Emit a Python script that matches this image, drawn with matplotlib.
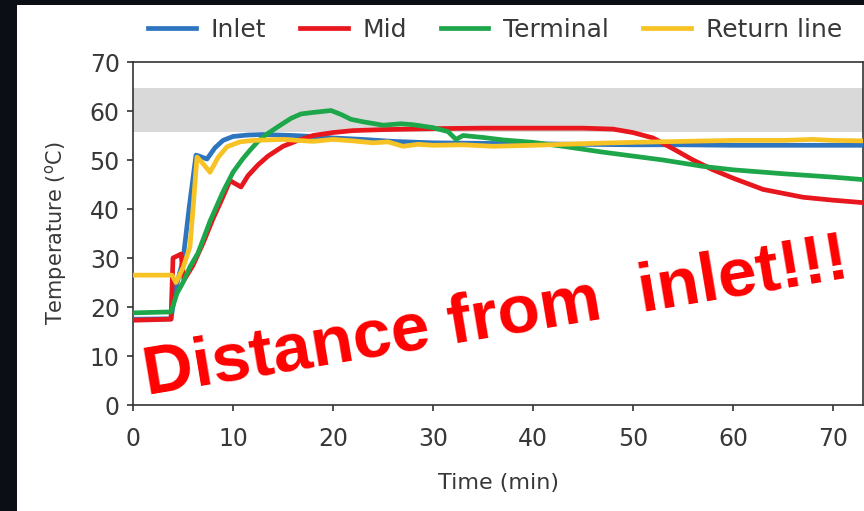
import numpy as np
import matplotlib
matplotlib.use("Agg")
import matplotlib.pyplot as plt
import matplotlib.patches as patches

plt.rcParams['font.family'] = ['DejaVu Sans']

# temperature logs (min, degC)
inlet_t = [0, 3.8, 4.3, 5.0, 5.6, 6.3, 6.6, 7.4, 8.2, 9.0, 10.0, 11.5, 13, 16, 18, 20, 23, 26, 30, 35, 40, 45, 50, 55, 60, 65, 70, 73]
inlet_T = [17.5, 17.6, 24, 29.6, 40, 51, 50.8, 50.2, 52.5, 54, 54.8, 55.1, 55.2, 55, 54.8, 54.5, 54.2, 53.8, 53.5, 53.4, 53.3, 53.2, 53.1, 53.1, 53, 53, 53, 53]

mid_t = [0, 3.8, 4.0, 4.8, 5.1, 6, 7, 8, 9, 9.7, 10.2, 10.8, 11.5, 12.5, 13.5, 15, 16.5, 18, 20, 22, 25, 30, 35, 40, 45, 48, 50, 52, 54, 56, 58, 60, 63, 67, 70, 73]
mid_T = [17.3, 17.5, 30, 30.8, 25.5, 28.5, 33, 38, 42.5, 45.8, 45.2, 44.5, 46.8, 49, 50.8, 52.8, 54, 55, 55.6, 56, 56.2, 56.4, 56.5, 56.5, 56.5, 56.3, 55.6, 54.5, 52.3, 50.0, 48.0, 46.3, 44, 42.4, 41.8, 41.3]

term_t = [0, 3.8, 4.4, 5, 5.7, 6.5, 7.7, 9, 10, 11, 11.7, 12.5, 13.4, 14.5, 15.8, 16.8, 18, 19.8, 20.8, 21.8, 23, 25, 26.8, 28, 30, 31.5, 32.3, 33, 35, 37, 40, 43, 47, 50, 53, 57, 60, 65, 70, 73]
term_T = [18.8, 19, 22.8, 25, 28.2, 31, 37.5, 43.5, 47.5, 50.3, 52, 53.8, 55.3, 56.8, 58.5, 59.4, 59.7, 60.1, 59.3, 58.3, 57.8, 57.1, 57.4, 57.2, 56.6, 55.8, 54.2, 55, 54.6, 54.1, 53.6, 52.8, 51.6, 50.8, 50, 48.7, 48, 47.2, 46.5, 46]

ret_t = [0, 3.9, 4.3, 5.0, 5.7, 6.0, 6.4, 6.9, 7.7, 8.5, 9.4, 10.7, 12, 15, 18, 20, 22, 24, 25.5, 27, 28.5, 30, 33, 36, 40, 43, 46, 50, 55, 60, 65, 68, 70, 73]
ret_T = [26.5, 26.5, 25, 28, 32.3, 40, 50.6, 49.5, 47.5, 50.5, 52.7, 53.7, 54, 54.2, 53.8, 54.2, 53.9, 53.5, 53.7, 52.8, 53.2, 53, 53.1, 52.8, 53, 53.2, 53.4, 53.6, 53.8, 54, 54, 54.2, 54, 53.9]

band = [55.7, 64.7]

fig = plt.figure(figsize=(8.64, 5.11), dpi=100, facecolor='#0b0e15')
# white card behind the chart
card = patches.Rectangle((17/864, 0), 1 - 17/864, (511 - 5)/511, transform=fig.transFigure,
                         facecolor='white', edgecolor='none', zorder=-10)
fig.patches.append(card)

ax = fig.add_axes([133/864, 106/511, 730/864, 343/511])
ax.set_facecolor('white')

ax.axhspan(band[0], band[1], color='#d9d9d9', lw=0, zorder=1)

ax.plot(inlet_t, inlet_T, color='#2e75c0', lw=3.4, label='Inlet', zorder=3)
ax.plot(mid_t, mid_T, color='#e8161d', lw=3.4, label='Mid', zorder=3)
ax.plot(term_t, term_T, color='#1ea64b', lw=3.4, label='Terminal', zorder=3)
ax.plot(ret_t, ret_T, color='#f7c224', lw=3.4, label='Return line', zorder=3)

ax.set_xlim(0, 73)
ax.set_ylim(0, 70)
ax.set_xticks(range(0, 71, 10))
ax.set_yticks(range(0, 71, 10))

for s in ax.spines.values():
    s.set_color('#333333')
    s.set_linewidth(1.2)
ax.tick_params(direction='out', length=4.5, width=1.2, color='#333333',
               labelsize=17, labelcolor='#383838')
ax.tick_params(axis='x', pad=11)
ax.tick_params(axis='y', pad=5)
ax.set_xlabel('Time (min)', fontsize=16, color='#383838', labelpad=16)
ax.set_ylabel(r'Temperature ($^{\rm o}$C)', fontsize=15, color='#383838', labelpad=15)

fig.legend(loc='center', bbox_to_anchor=(0.573, 0.941), ncol=4, frameon=False,
           fontsize=18, labelcolor='#383838', handlelength=1.9, handletextpad=0.6,
           columnspacing=1.35)

fig.text(147/864, (511 - 395)/511, 'Distance from  inlet!!!', color='#ff0000',
         fontsize=50, fontweight='bold', family='Liberation Sans',
         rotation=9.5, rotation_mode='anchor', ha='left', va='baseline', zorder=5)

fig.savefig('out.png', dpi=100, facecolor=fig.get_facecolor())
